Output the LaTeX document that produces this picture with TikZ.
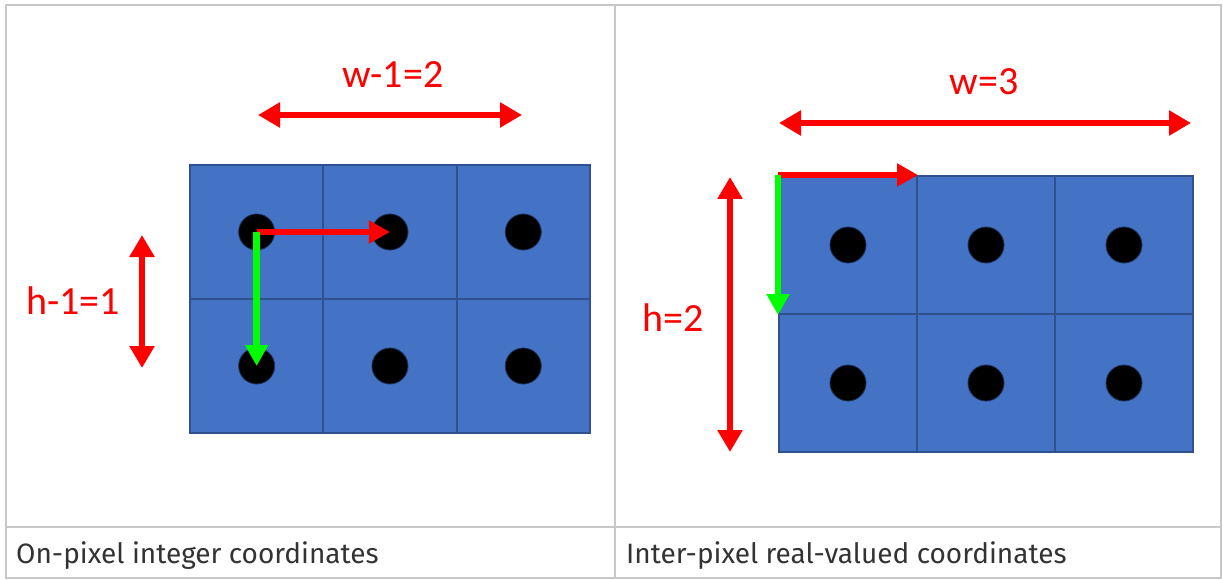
\documentclass[tikz,border=0pt]{standalone}
\usepackage{fontspec}
\setmainfont{Fira Sans}
\newfontfamily\labelfont{Carlito}
\usetikzlibrary{arrows.meta,positioning}
\definecolor{cellblue}{HTML}{4472C4}
\definecolor{cellline}{HTML}{2F528F}
\definecolor{rulegray}{HTML}{C8C8C8}
\definecolor{dimred}{HTML}{FF0000}
\definecolor{stepgreen}{HTML}{00FF00}

\begin{document}
\begin{tikzpicture}[x=1pt, y=-1pt,
	lcell/.style={draw=cellline, line width=2pt, fill=cellblue, inner sep=0pt,
		minimum width=133.3pt, minimum height=134pt},
	rcell/.style={lcell, minimum width=138pt, minimum height=138pt},
	pixdot/.style={circle, fill=black, draw=cellline!60!black, line width=0.8pt,
		inner sep=0pt, minimum size=36pt},
	dimarrow/.style={dimred, line width=6.5pt,
		{Triangle[length=22pt,width=24pt]}-{Triangle[length=22pt,width=24pt]}},
	steparrow/.style={line width=6.5pt, -{Triangle[length=21pt,width=22pt]}},
	dimlabel/.style={text=dimred, inner sep=0pt, anchor=base,
		font=\labelfont\fontsize{40}{48}\selectfont},
	caption/.style={anchor=base west, inner sep=0pt, text=black!80,
		font=\fontsize{28}{34}\selectfont},
	tablerule/.style={draw=rulegray, line width=1.4pt}]
	\useasboundingbox (0,0) rectangle (1223,580);
	
	% Table
	\draw[tablerule] (6,5) rectangle (1221,578);
	\draw[tablerule] (615,5) -- (615,578);
	\draw[tablerule] (6,527) -- (1221,527);
	
	% Left grid: pixel centres
	\foreach \i in {0,1,2} {
		\foreach \j in {0,1} {
			\node[lcell] (lc\i\j) at ({190+133.3*(\i+0.5)},{165+134*(\j+0.5)}) {};
			\node[pixdot] (ld\i\j) at (lc\i\j.center) {};
		}
	}
	\draw[steparrow, dimred] (ld00.center) -- (ld10.center);
	\draw[steparrow, stepgreen] (ld00.center) -- (ld01.center);
	
	% Left dimensions
	\coordinate (lw1) at (258,115);
	\coordinate (lw2) at (522,115);
	\coordinate (lh1) at (142,235);
	\coordinate (lh2) at (142,368);
	\draw[dimarrow] (lw1) -- (lw2);
	\draw[dimarrow] (lh1) -- (lh2);
	\node[dimlabel] (lwlabel) at (393,88) {w-1=2};
	\node[dimlabel] (lhlabel) at (73,314) {h-1=1};
	
	% Right grid: pixel corners
	\foreach \i in {0,1,2} {
		\foreach \j in {0,1} {
			\node[rcell] (rc\i\j) at ({779+138*(\i+0.5)},{176+138*(\j+0.5)}) {};
			\node[pixdot] (rd\i\j) at (rc\i\j.center) {};
		}
	}
	\draw[steparrow, dimred] (rc00.north west) -- (rc00.north east);
	\draw[steparrow, stepgreen] (rc00.north west) -- (rc00.south west);
	
	% Right dimensions
	\coordinate (rw1) at (779,123);
	\coordinate (rw2) at (1191,123);
	\coordinate (rh1) at (730,177);
	\coordinate (rh2) at (730,452);
	\draw[dimarrow] (rw1) -- (rw2);
	\draw[dimarrow] (rh1) -- (rh2);
	\node[dimlabel] (rwlabel) at (984,95) {w=3};
	\node[dimlabel] (rhlabel) at (673,331) {h=2};
	
	% Captions
	\node[caption] (lcap) at (16,563) {On-pixel integer coordinates};
	\node[caption] (rcap) at (626,563) {Inter-pixel real-valued coordinates};
\end{tikzpicture}
\end{document}
